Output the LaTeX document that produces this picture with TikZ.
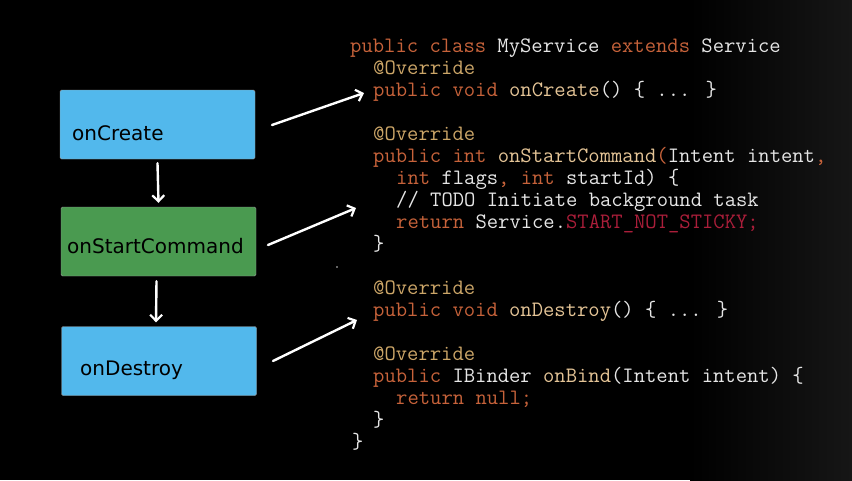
\documentclass[tikz,border=0pt]{standalone}
\usepackage{fontspec}
\setmainfont{DejaVu Sans}
\usetikzlibrary{arrows.meta,calc}

% code colours
\definecolor{kw}{RGB}{198,98,58}
\definecolor{ann}{RGB}{204,166,104}
\definecolor{meth}{RGB}{228,196,150}
\definecolor{plain}{RGB}{230,230,230}
\definecolor{const}{RGB}{170,30,58}
% box colours
\definecolor{boxblue}{RGB}{82,184,236}
\definecolor{boxgreen}{RGB}{74,154,80}
\definecolor{haze}{RGB}{22,22,22}

\newcommand{\K}[1]{\textcolor{kw}{#1}}
\newcommand{\A}[1]{\textcolor{ann}{#1}}
\newcommand{\M}[1]{\textcolor{meth}{#1}}
\newcommand{\C}[1]{\textcolor{const}{#1}}

\tikzset{
  stage/.style={draw=black!40, rounded corners=1.5pt, minimum width=195pt,
    minimum height=69pt, inner sep=0pt},
  stagelabel/.style={anchor=west, inner sep=0pt, text=black,
    font=\fontsize{20}{24}\selectfont},
  codeline/.style={anchor=base west, inner sep=0pt, text=plain,
    font=\ttfamily\fontsize{22}{24}\selectfont},
  flow/.style={draw=white, line width=2.4pt, line cap=round,
    -{Straight Barb[length=6pt,width=12pt,line width=2.2pt]}},
}

\begin{document}
\begin{tikzpicture}[x=1pt,y=-1pt]
  % background
  \fill[black] (0,0) rectangle (852,480);
  \shade[left color=black, right color=haze] (690,0) rectangle (852,480);
  \useasboundingbox (0,0) rectangle (852,480);

  % lifecycle boxes
  \node[stage, fill=boxblue]  (create)  at (157.5,124.5) {};
  \node[stage, fill=boxgreen] (start)   at (158.5,241.5) {};
  \node[stage, fill=boxblue]  (destroy) at (159,361) {};

  \node[stagelabel] (createlbl)  at (72,133)  {onCreate};
  \node[stagelabel] (startlbl)   at (67,246)  {onStartCommand};
  \node[stagelabel] (destroylbl) at (80,370)  {onDestroy};

  % arrows between stages
  \draw[flow] ($(create.south)+(0,4)$) -- ($(start.north)+(0,-4)$);
  \draw[flow] ($(start.south)+(-2,5)$) -- ($(destroy.north)+(-3,-4)$);

  % source code
  \node[codeline] (l1)  at (350,52)  {\K{public class} MyService \K{extends} Service};
  \node[codeline] (l2)  at (373,74)  {\A{@Override}};
  \node[codeline] (l3)  at (373,96)  {\K{public void} \M{onCreate}() \{ ... \}};
  \node[codeline] (l4)  at (373,140) {\A{@Override}};
  \node[codeline] (l5)  at (373,162) {\K{public int} \M{onStartCommand}\K{(}Intent intent\K{,}};
  \node[codeline] (l6)  at (396,184) {\K{int} flags\K{,} \K{int} startId) \{};
  \node[codeline] (l7)  at (396,206) {// TODO Initiate background task};
  \node[codeline] (l8)  at (396,228) {\K{return} Service.\C{START\_NOT\_STICKY;}};
  \node[codeline] (l9)  at (373,250) {\}};
  \node[codeline] (l10) at (373,294) {\A{@Override}};
  \node[codeline] (l11) at (373,316) {\K{public void} \M{onDestroy}() \{ ... \}};
  \node[codeline] (l12) at (373,360) {\A{@Override}};
  \node[codeline] (l13) at (373,382) {\K{public} IBinder \M{onBind}(Intent intent) \{};
  \node[codeline] (l14) at (396,404) {\K{return null;}};
  \node[codeline] (l15) at (373,426) {\}};
  \node[codeline] (l16) at (352,448) {\}};

  % arrows from stages to the matching methods
  \coordinate (c1s) at (272,125);
  \coordinate (c1e) at (364,93);
  \coordinate (c2s) at (268,245);
  \coordinate (c2e) at (356,208);
  \coordinate (c3s) at (273,361);
  \coordinate (c3e) at (357,320);
  \draw[flow] (c1s) -- (c1e);
  \draw[flow] (c2s) -- (c2e);
  \draw[flow] (c3s) -- (c3e);

  % stray speck
  \fill[white!80!black] (337,267) circle (0.9);
\end{tikzpicture}
\end{document}
